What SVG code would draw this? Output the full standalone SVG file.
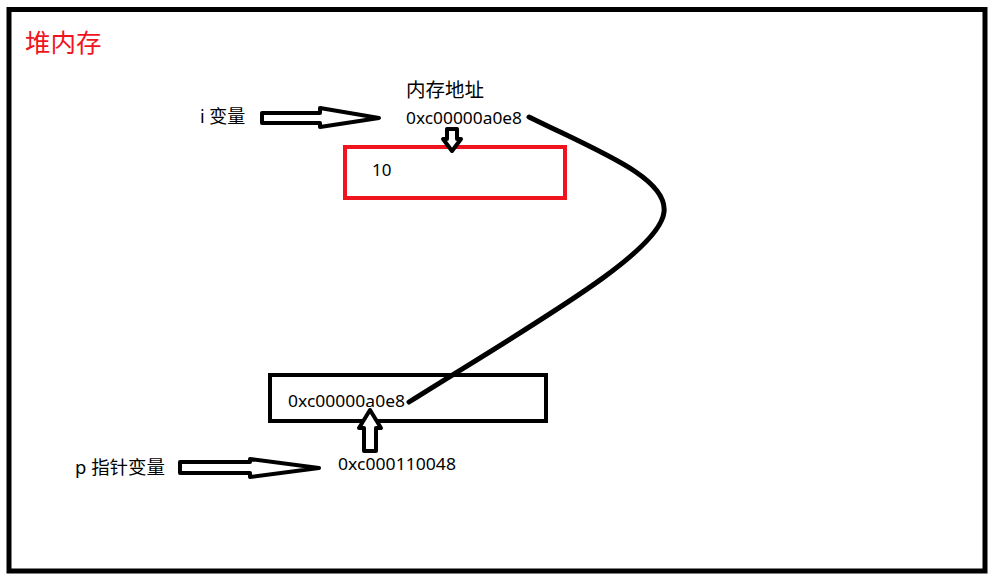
<svg xmlns="http://www.w3.org/2000/svg" width="993" height="577" viewBox="0 0 993 577">
<style>
text{font-family:"Noto Sans","Noto Sans CJK SC",sans-serif;fill:#000}
.lbl{font-size:17px}
.arr{fill:#fff;stroke:#000;stroke-width:4;stroke-linejoin:round}
</style>
<rect width="993" height="577" fill="#fff"/>
<rect x="9" y="9.5" width="976" height="561.5" fill="none" stroke="#000" stroke-width="5"/>
<g id="title"><text x="25" y="52" style="font-size:25.5px;fill:#f0141e">堆内存</text></g>
<g id="i-var"><text class="lbl" x="200" y="123" style="font-size:18px">i 变量</text></g>
<g id="addr-label"><text class="lbl" x="406" y="97" style="font-size:19.5px">内存地址</text>
<text class="lbl" x="406" y="124" textLength="116" lengthAdjust="spacingAndGlyphs">0xc00000a0e8</text></g>
<g id="value-box"><rect x="345" y="147" width="220" height="51" fill="none" stroke="#f0141e" stroke-width="4"/>
<text class="lbl" x="372" y="176">10</text></g>
<g id="pointer-box"><rect x="270" y="375" width="276" height="46" fill="none" stroke="#000" stroke-width="4"/>
<text class="lbl" x="288" y="407" textLength="117" lengthAdjust="spacingAndGlyphs">0xc00000a0e8</text></g>
<g id="p-addr"><text class="lbl" x="338" y="470" textLength="118" lengthAdjust="spacingAndGlyphs">0xc000110048</text></g>
<g id="p-var"><text class="lbl" x="75" y="474" style="font-size:18px" textLength="90" lengthAdjust="spacingAndGlyphs">p 指针变量</text></g>
<g id="connectors">
<path class="arr" d="M262,113 L320,113 L320,108 L379,118 L320,127 L320,123 L262,123 Z"/>
<path class="arr" d="M447,129 L457,129 L457,139 L461,139 L452,151 L443,139 L447,139 Z"/>
<path class="arr" d="M370,410 L381,428 L376,428 L376,451 L364,451 L364,428 L359,428 Z"/>
<path class="arr" d="M180,462 L250,462 L250,459 L319,468 L250,477 L250,473 L180,473 Z"/>
<path d="M529,117 C600,152 668,178 664,212 C660,252 540,320 409,402" fill="none" stroke="#000" stroke-width="5" stroke-linecap="round"/>
</g>
</svg>
